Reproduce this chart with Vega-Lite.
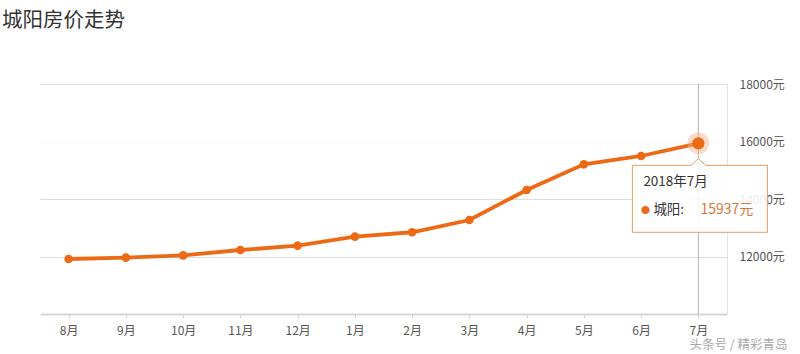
{
  "$schema": "https://vega.github.io/schema/vega-lite/v6.json",
  "width": 687,
  "height": 230,
  "autosize": "none",
  "padding": {"left": 40, "top": 84, "right": 73, "bottom": 40},
  "background": "white",
  "config": {"font": "Noto Sans CJK SC", "view": {"stroke": null}},
  "title": {"text": "城阳房价走势", "anchor": "start", "frame": "group", "dx": -38, "offset": 31, "baseline": "alphabetic", "fontSize": 20.5, "fontWeight": "normal", "color": "#333333", "font": "Noto Sans CJK SC"},
  "data": {"values": [
    {"month": "8月", "price": 11913},
    {"month": "9月", "price": 11960},
    {"month": "10月", "price": 12040},
    {"month": "11月", "price": 12226},
    {"month": "12月", "price": 12376},
    {"month": "1月", "price": 12690},
    {"month": "2月", "price": 12843},
    {"month": "3月", "price": 13270},
    {"month": "4月", "price": 14313},
    {"month": "5月", "price": 15207},
    {"month": "6月", "price": 15496},
    {"month": "7月", "price": 15937}
  ]},
  "encoding": {
    "x": {"field": "month", "type": "ordinal", "sort": ["8月", "9月", "10月", "11月", "12月", "1月", "2月", "3月", "4月", "5月", "6月", "7月"], "scale": {"type": "point", "padding": 0.5},
      "axis": {"title": null, "labelAngle": 0, "labelFontSize": 12, "labelColor": "#555555", "labelPadding": 7, "domainColor": "#d6d6d6", "domainWidth": 2, "tickColor": "#d6d6d6", "tickSize": 4, "grid": false}},
    "y": {"field": "price", "type": "quantitative", "scale": {"domain": [10000, 18000], "nice": false, "zero": false},
      "axis": {"title": null, "orient": "right", "values": [12000, 14000, 16000, 18000], "labelExpr": "datum.value + '元'", "labelFontSize": 12, "labelColor": "#555555", "labelPadding": 12, "ticks": false, "domainColor": "#e2e2e2", "domainWidth": 1,
        "grid": true, "gridColor": {"condition": {"test": "datum.value === 16000", "value": "#f6f6f6"}, "value": "#dcdcdc"}, "gridWidth": 1}}
  },
  "layer": [
    {"transform": [{"filter": "datum.month === '7月'"}], "mark": {"type": "rule", "color": "#b5b5b5", "strokeWidth": 1}, "encoding": {"y": null}},
    {"mark": {"type": "line", "color": "#ec6a15", "strokeWidth": 3.8}},
    {"transform": [{"filter": "datum.month !== '7月'"}], "mark": {"type": "circle", "color": "#ec6a15", "size": 75, "opacity": 1}},
    {"transform": [{"filter": "datum.month === '7月'"}], "mark": {"type": "circle", "color": "#f6b286", "size": 480, "opacity": 0.45}},
    {"transform": [{"filter": "datum.month === '7月'"}], "mark": {"type": "circle", "color": "#ec6a15", "size": 150, "opacity": 1}},
    {"transform": [{"filter": "datum.month === '7月'"}], "mark": {"type": "point", "filled": true, "shape": "M-66,22H-7L0,15L7,22H69V89H-66Z", "size": 4, "fill": "#ffffff", "fillOpacity": 0.88, "stroke": "#e89a5c", "strokeWidth": 1, "opacity": 1}},
    {"transform": [{"filter": "datum.month === '7月'"}], "mark": {"type": "text", "text": "2018年7月", "align": "left", "baseline": "middle", "dx": -55, "dy": 39, "fontSize": 13.5, "color": "#333333"}},
    {"transform": [{"filter": "datum.month === '7月'"}], "mark": {"type": "text", "text": "●", "align": "center", "baseline": "middle", "dx": -53, "dy": 67, "fontSize": 9, "color": "#ec6a15"}},
    {"transform": [{"filter": "datum.month === '7月'"}], "mark": {"type": "text", "text": "城阳:", "align": "left", "baseline": "middle", "dx": -45, "dy": 67, "fontSize": 13.5, "color": "#333333"}},
    {"transform": [{"filter": "datum.month === '7月'"}], "mark": {"type": "text", "text": "15937元", "align": "left", "baseline": "middle", "dx": 2, "dy": 67, "fontSize": 14, "color": "#d9773a"}},
    {"transform": [{"filter": "datum.month === '7月'"}], "mark": {"type": "text", "text": "头条号 / 精彩青岛", "align": "left", "baseline": "middle", "dx": -9, "dy": 31, "fontSize": 12.5, "color": "#a8a8a8"}, "encoding": {"y": {"datum": 10000}}}
  ]
}
